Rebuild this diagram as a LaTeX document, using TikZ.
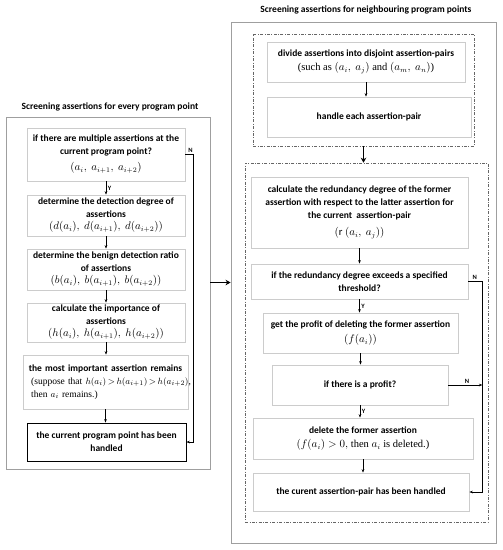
\documentclass[tikz,border=0pt]{standalone}
\usepackage{fontspec}
\setmainfont{Carlito}
\newfontfamily\timesfont{Liberation Serif}
\usetikzlibrary{arrows.meta}
\newcommand{\frm}[1]{{\timesfont\mdseries\fontsize{10.5}{13}\selectfont #1}}
\newcommand{\frmsmall}[1]{{\timesfont\mdseries\fontsize{9.5}{13}\selectfont #1}}

\tikzset{
  stepbox/.style={rectangle, draw=gray!40, line width=0.8pt, align=center, inner sep=2pt,
    font=\bfseries\fontsize{9.5}{13}\selectfont},
  frame/.style={rectangle, draw=gray!75, line width=0.9pt, inner sep=0pt},
  pairframe/.style={rectangle, draw=gray!80!black, line width=0.6pt, inner sep=0pt,
    dash pattern=on 3pt off 1.5pt on 0.8pt off 1.5pt},
  flow/.style={-{Stealth[length=3.5pt,width=2.6pt]}, line width=0.5pt},
  bigflow/.style={-{Stealth[length=5pt,width=5.5pt]}, line width=1.6pt},
  yn/.style={font=\bfseries\fontsize{6.5}{7}\selectfont, inner sep=1.5pt},
  title/.style={font=\bfseries\fontsize{9.5}{11}\selectfont}
}

\begin{document}
\begin{tikzpicture}[x=1pt, y=-1pt]
    \useasboundingbox (0,0) rectangle (503,550);

    % left part: every program point
    \node[title] (lefttitle) at (110,107) {Screening assertions for every program point};
    \node[frame, minimum width=204pt, minimum height=352pt] (leftframe) at (108,293) {};

    \node[stepbox, minimum width=158pt, minimum height=53pt] (multi) at (106,154.5)
        {if there are multiple assertions at the\\ current program point?\\[3pt] \frm{$(a_i,\ a_{i+1},\ a_{i+2})$}};
    \node[stepbox, minimum width=158pt, minimum height=41pt] (detect) at (106,215.5)
        {determine the detection degree of\\ assertions\\[-1pt] \frm{$(d(a_i),\ d(a_{i+1}),\ d(a_{i+2}))$}};
    \node[stepbox, minimum width=158pt, minimum height=41pt] (benign) at (106,269.5)
        {determine the benign detection ratio\\ of assertions\\[-1pt] \frm{$(b(a_i),\ b(a_{i+1}),\ b(a_{i+2}))$}};
    \node[stepbox, minimum width=158pt, minimum height=39pt] (import) at (106,322.5)
        {calculate the importance of\\ assertions\\[-1pt] \frm{$(h(a_i),\ h(a_{i+1}),\ h(a_{i+2}))$}};
    \node[stepbox, align=left, text width=155pt, inner sep=5pt, minimum width=165pt, minimum height=54pt] (remain) at (105.5,382)
        {\centerline{the most important assertion remains}
         \mbox{\frmsmall{\ (suppose that $h(a_i)\,{>}\,h(a_{i+1})\,{>}\,h(a_{i+2})$,}}\\ \frmsmall{\ then $a_i$ remains.)}};
    \node[stepbox, draw=black, minimum width=159pt, minimum height=38pt] (pointdone) at (106.5,442)
        {the current program point has been\\ handled};

    \draw[flow] (multi.south) -- node[yn, right] {Y} (detect.north);
    \foreach \a/\b in {detect/benign, benign/import, import/remain, remain/pointdone}
        \draw[flow] (\a.south) -- (\a.south |- \b.north);
    \draw[flow] (multi.east) -- ++(8,0) node[yn, above left, xshift=1pt] {N} |- (pointdone.east);

    % right part: neighbouring program points
    \node[title] (righttitle) at (366,10) {Screening assertions for neighbouring program points};
    \node[frame, minimum width=265pt, minimum height=521pt] (rightframe) at (363.5,282.5) {};

    \draw[bigflow] (leftframe.east |- rightframe.west) -- (rightframe.west);

    \node[pairframe, minimum width=221pt, minimum height=112pt] (pairs) at (363.5,90) {};
    \node[stepbox, minimum width=198pt, minimum height=40pt] (divide) at (366,62)
        {divide assertions into disjoint assertion-pairs\\[1pt] \frm{(such as $(a_i,\ a_j)$ and $(a_m,\ a_n)$)}};
    \node[stepbox, minimum width=204pt, minimum height=40pt] (handle) at (369,117)
        {handle each assertion-pair};
    \draw[flow] (divide.south) -- (divide.south |- handle.north);

    \node[pairframe, minimum width=243pt, minimum height=359pt] (eachpair) at (366.5,342.5) {};
    \draw[bigflow] (pairs.south) -- (pairs.south |- eachpair.north);

    \node[stepbox, minimum width=217pt, minimum height=71pt] (calcred) at (359.5,212.5)
        {calculate the redundancy degree of the former\\ assertion with respect to the latter assertion for\\ the current\ \ assertion-pair\\[4pt] \frm{$(\mathrm{r}\ (a_i,\ a_j))$}};
    \node[stepbox, minimum width=217pt, minimum height=35pt] (exceed) at (359.5,281.5)
        {if the redundancy degree exceeds a specified\\ threshold?};
    \node[stepbox, minimum width=195pt, minimum height=40pt] (getprofit) at (360.5,333)
        {get the profit of deleting the former assertion\\[2pt] \frm{$(f(a_i))$}};
    \node[stepbox, minimum width=176pt, minimum height=40pt] (isprofit) at (360,385)
        {if there is a profit?};
    \node[stepbox, minimum width=220pt, minimum height=41pt] (delformer) at (363,438.5)
        {delete the former assertion\\[1pt] \frm{$(f(a_i)>0,$ then $a_i$ is deleted.)}};
    \node[stepbox, minimum width=216pt, minimum height=38pt] (pairdone) at (361,492)
        {the curent assertion-pair has been handled};

    \foreach \a/\b in {calcred/exceed, getprofit/isprofit, delformer/pairdone}
        \draw[flow] (\a.south) -- (\a.south |- \b.north);
    \draw[flow] (exceed.south) -- node[yn, right] {Y} (exceed.south |- getprofit.north);
    \draw[flow] (isprofit.south) -- node[yn, right] {Y} (isprofit.south |- delformer.north);

    \coordinate (nbend) at ([xshift=14pt]exceed.east);
    \draw[flow] (exceed.east) -- node[yn, above, pos=0.45] {N} (nbend) |- (pairdone.east);
    \draw[flow] (isprofit.east) -- node[yn, above, pos=0.55] {N} (isprofit.east -| nbend);
\end{tikzpicture}
\end{document}
